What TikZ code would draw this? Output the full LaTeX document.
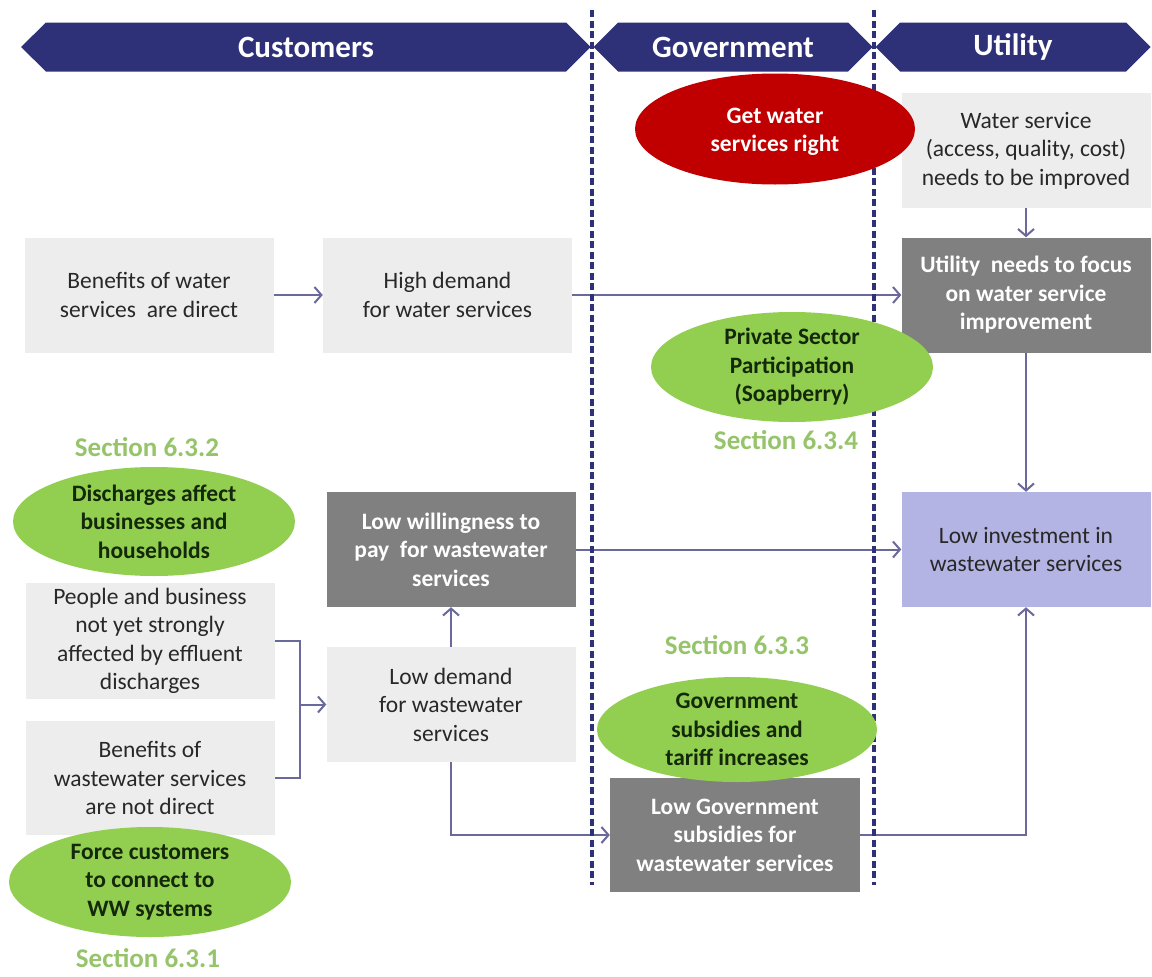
\documentclass[tikz,border=0pt]{standalone}
\usepackage{fontspec}
\setmainfont{Carlito}
\usetikzlibrary{arrows.meta,shapes.geometric}
\definecolor{navy}{RGB}{46,49,120}
\definecolor{lightbox}{RGB}{237,237,237}
\definecolor{darkbox}{RGB}{128,128,128}
\definecolor{lavbox}{RGB}{180,180,228}
\definecolor{greenell}{RGB}{146,206,80}
\definecolor{redell}{RGB}{192,0,0}
\definecolor{secgreen}{RGB}{150,196,106}
\definecolor{conncol}{RGB}{105,105,155}
\definecolor{txtdark}{RGB}{40,40,40}
\definecolor{greentxt}{RGB}{20,40,10}
\newcommand{\fbody}{\fontsize{23.5}{28.5}\selectfont}
\newcommand{\fsect}{\fontsize{27}{32}\selectfont\bfseries}
\newcommand{\fhdr}{\fontsize{31}{36}\selectfont\bfseries}
\tikzset{
  box/.style={rectangle, inner sep=0pt, align=center, font=\fbody, text=txtdark,
              minimum width=249pt, minimum height=115pt},
  lbox/.style={box, fill=lightbox},
  dbox/.style={box, fill=darkbox, text=white, font=\fbody\bfseries},
  pbox/.style={box, fill=lavbox},
  ell/.style={ellipse, inner sep=0pt, minimum width=282pt, minimum height=110pt},
  gell/.style={ell, fill=greenell},
  gtxt/.style={align=center, font=\fbody\bfseries, text=greentxt, inner sep=0pt},
  rtxt/.style={align=center, font=\fbody\bfseries, text=white, inner sep=0pt},
  sect/.style={text=secgreen, font=\fsect, inner sep=0pt},
  hdr/.style={text=white, font=\fhdr, inner sep=0pt},
  cline/.style={draw=conncol, line width=2pt},
  conn/.style={cline, -{Straight Barb[length=7pt,width=16pt]}},
  lane/.style={draw=navy, line width=3.2pt, dash pattern=on 7pt off 3.5pt}
}
\begin{document}
\begin{tikzpicture}[x=1pt,y=-1pt]
\useasboundingbox (0,0) rectangle (1152,977);
\fill[white] (0,0) rectangle (1152,977);

% header banners
\fill[navy] (21,47) -- (46,22.5) -- (566,22.5) -- (590.5,47) -- (566,71.5) -- (46,71.5) -- cycle;
\fill[navy] (593.5,47) -- (618,22.5) -- (848,22.5) -- (872.5,47) -- (848,71.5) -- (618,71.5) -- cycle;
\fill[navy] (875.5,47) -- (900,22.5) -- (1126,22.5) -- (1150.5,47) -- (1126,71.5) -- (900,71.5) -- cycle;
\node[hdr] (hcust) at (306,47) {Customers};
\node[hdr] (hgov) at (733,47) {Government};
\node[hdr] (hutil) at (1013,47) {Utility};

% boxes
\node[lbox] (bwd) at (149,295) {Benefits of water\\services~~are direct};
\node[lbox] (hdw) at (447.5,295) {High demand\\for water services};
\node[lbox] (wsi) at (1026,150.5) {Water service\\(access, quality, cost)\\needs to be improved};
\node[dbox] (utf) at (1026,295) {Utility~~needs to focus\\on water service\\improvement};
\node[pbox] (liw) at (1026,549.5) {Low investment in\\wastewater services};
\node[dbox] (lwp) at (451,549.5) {Low willingness to\\pay~~for wastewater\\services};
\node[lbox, minimum height=116pt] (pnb) at (150,641) {People and business\\not yet strongly\\affected by effluent\\discharges};
\node[lbox, minimum height=114pt] (bwn) at (150,778) {Benefits of\\wastewater services\\are not direct};
\node[lbox] (ldw) at (451,704.5) {Low demand\\for wastewater\\services};
\node[dbox, minimum width=250pt, minimum height=114pt] (lgs) at (735,835) {Low Government\\subsidies for\\wastewater services};

% connectors
\coordinate (brk) at (300,0);
\draw[conn] (bwd.east) -- (hdw.west);
\draw[conn] (hdw.east) -- (utf.west);
\draw[conn] (wsi.south) -- (utf.north);
\draw[conn] (utf.south) -- (liw.north);
\draw[conn] (lwp.east) -- (liw.west);
\draw[cline] (pnb.east) -- (pnb.east -| brk) -- (bwn.east -| brk) -- (bwn.east);
\draw[conn] (ldw.west -| brk) -- (ldw.west);
\draw[conn] (ldw.north) -- (lwp.south);
\draw[conn] (ldw.south) |- (lgs.west);
\draw[conn] (lgs.east) -| (liw.south);

% lane separators
\draw[lane] (592,10) -- (592,885);
\draw[lane] (874,10) -- (874,885);

% ellipses
\node[ell, fill=redell, minimum width=280pt, minimum height=111pt,
      label={[rtxt, yshift=-3pt]center:{Get water\\services right}}] (gwr) at (775,129) {};
\node[gell, label={[gtxt]center:{Private Sector\\Participation\\(Soapberry)}}] (psp) at (792,367) {};
\node[gell, minimum height=109pt, label={[gtxt]center:{Discharges affect\\businesses and\\households}}] (dab) at (154,521.5) {};
\node[gell, label={[gtxt]center:{Force customers\\to connect to\\WW systems}}] (fcc) at (150,882) {};
\node[gell, minimum width=280pt, minimum height=105pt, label={[gtxt]center:{Government\\subsidies and\\tariff increases}}] (gst) at (737,729.5) {};

% section labels
\node[sect] (s632) at (147,447) {Section 6.3.2};
\node[sect] (s631) at (148,958) {Section 6.3.1};
\node[sect] (s633) at (737,645) {Section 6.3.3};
\node[sect] (s634) at (786,440) {Section 6.3.4};
\end{tikzpicture}
\end{document}
